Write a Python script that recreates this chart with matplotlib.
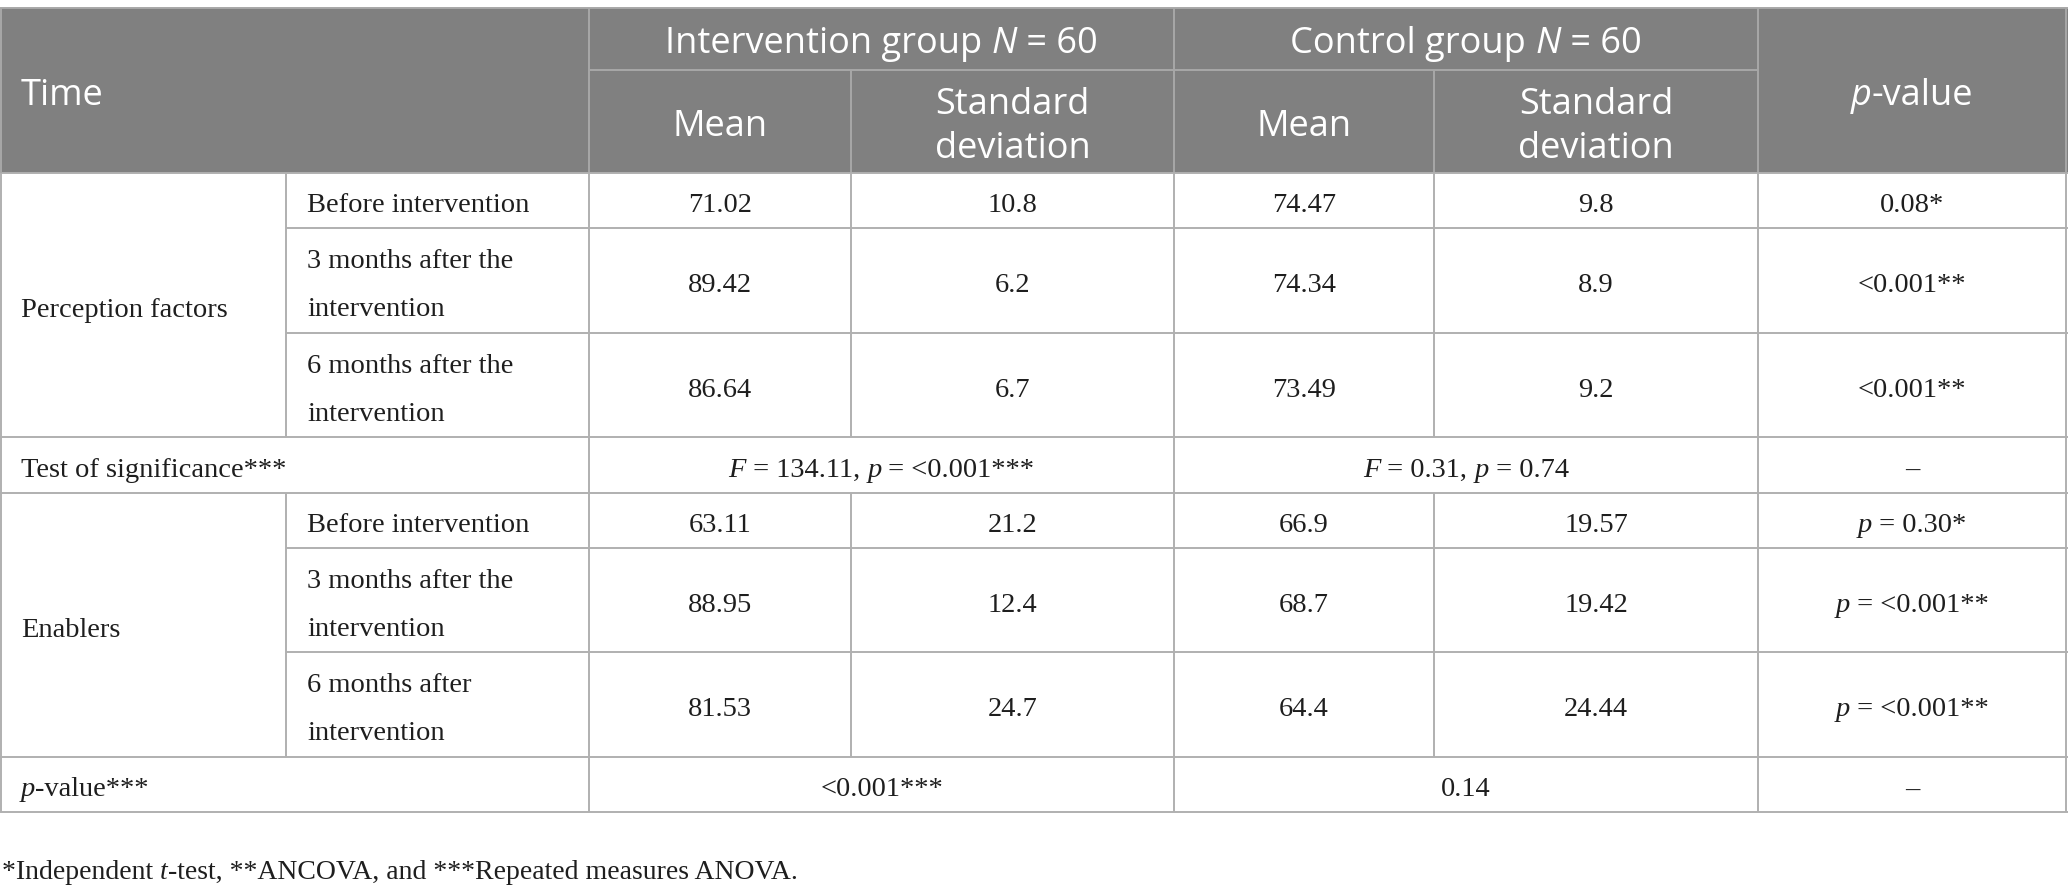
import re
import matplotlib
matplotlib.use("Agg")
import matplotlib.pyplot as plt
from matplotlib.patches import Rectangle

# ---------------- data ----------------
header_time = "Time"
header_groups = ["Intervention group {N} = 60", "Control group {N} = 60"]
header_sub = ["Mean", "Standard\ndeviation", "Mean", "Standard\ndeviation"]
header_p = "{p}-value"

group_names = ["Perception factors", "Enablers"]
times_pf = ["Before intervention", "3 months after the\nintervention", "6 months after the\nintervention"]
times_en = ["Before intervention", "3 months after the\nintervention", "6 months after\nintervention"]

int_mean_pf = [71.02, 89.42, 86.64]
int_sd_pf = [10.8, 6.2, 6.7]
ctl_mean_pf = [74.47, 74.34, 73.49]
ctl_sd_pf = [9.8, 8.9, 9.2]
pval_pf = ["0.08*", "<0.001**", "<0.001**"]

int_mean_en = [63.11, 88.95, 81.53]
int_sd_en = [21.2, 12.4, 24.7]
ctl_mean_en = [66.9, 68.7, 64.4]
ctl_sd_en = [19.57, 19.42, 24.44]
pval_en = ["{p} = 0.30*", "{p} = <0.001**", "{p} = <0.001**"]

sig_label = "Test of significance***"
sig_int = "{F} = 134.11, {p} = <0.001***"
sig_ctl = "{F} = 0.31, {p} = 0.74"
sig_p = "\u2013"

last_label = "{p}-value***"
last_int = "<0.001***"
last_ctl = "0.14"
last_p = "\u2013"

footnote = "*Independent {t}-test, **ANCOVA, and ***Repeated measures ANOVA."

# ---------------- layout (pixels) ----------------
W, H = 2068, 896
cols = [0, 286, 589, 851, 1174, 1434, 1758, 2066]
y_top, y_hmid, y_hbot = 8, 70, 173
rows_pf = [173, 228, 333, 437]
row_sig = [437, 493]
rows_en = [493, 548, 652, 757]
row_last = [757, 812]

HEAD_BG = "#808080"
HEAD_LINE = "#a8a8a8"
GRID = "#b0b0b0"
TXT = "#1e1e1e"
SERIF = "Liberation Serif"
SANS = "Open Sans"
BODY_FS = 20.5
HEAD_FS = 26
LW = 1.4

fig = plt.figure(figsize=(W / 100, H / 100), dpi=100)
ax = fig.add_axes([0, 0, 1, 1])
ax.set_xlim(0, W)
ax.set_ylim(H, 0)
ax.axis("off")
renderer = fig.canvas.get_renderer()


def seg_width(s, family, style, size):
    t = ax.text(0, 0, s + "|", family=family, style=style, fontsize=size)
    t2 = ax.text(0, 0, "|", family=family, style=style, fontsize=size)
    w = t.get_window_extent(renderer).width - t2.get_window_extent(renderer).width
    t.remove()
    t2.remove()
    return w


def rich(x, y, s, family=SERIF, size=BODY_FS, color=TXT, ha="center"):
    parts = re.split(r"(\{.*?\})", s)
    segs = []
    for p in parts:
        if not p:
            continue
        if p.startswith("{") and p.endswith("}"):
            segs.append((p[1:-1], "italic"))
        else:
            segs.append((p, "normal"))
    widths = [seg_width(t, family, st, size) for t, st in segs]
    total = sum(widths)
    if ha == "center":
        cx = x - total / 2
    elif ha == "left":
        cx = x
    else:
        cx = x - total
    for (t, st), w in zip(segs, widths):
        ax.text(cx, y, t, family=family, style=st, fontsize=size, color=color,
                ha="left", va="baseline")
        cx += w


def cell_text(x, yc, s, ha="center", family=SERIF, size=BODY_FS, color=TXT, gap=48, off=12):
    lines = s.split("\n")
    n = len(lines)
    for i, ln in enumerate(lines):
        yb = yc + off + (i - (n - 1) / 2) * gap
        rich(x, yb, ln, family=family, size=size, color=color, ha=ha)


def hline(y, x0, x1, color=GRID):
    ax.plot([x0, x1], [y, y], color=color, lw=LW, solid_capstyle="butt", zorder=3)


def vline(x, y0, y1, color=GRID):
    ax.plot([x, x], [y0, y1], color=color, lw=LW, solid_capstyle="butt", zorder=3)


# header background
ax.add_patch(Rectangle((0, y_top), W, y_hbot - y_top, facecolor=HEAD_BG, edgecolor="none", zorder=1))

# header lines
hline(y_top, 0, W, HEAD_LINE)
hline(y_hmid, cols[2], cols[6], HEAD_LINE)
for xi in [cols[2], cols[4], cols[6]]:
    vline(xi, y_top, y_hbot, HEAD_LINE)
for xi in [cols[3], cols[5]]:
    vline(xi, y_hmid, y_hbot, HEAD_LINE)

# header text
WHITE = "white"
rich(21, 105, header_time, family=SANS, size=HEAD_FS, color=WHITE, ha="left")
rich((cols[2] + cols[4]) / 2, 53, header_groups[0], family=SANS, size=HEAD_FS, color=WHITE)
rich((cols[4] + cols[6]) / 2, 53, header_groups[1], family=SANS, size=HEAD_FS, color=WHITE)
for j, lab in enumerate(header_sub):
    xc = (cols[2 + j] + cols[3 + j]) / 2
    cell_text(xc, (y_hmid + y_hbot) / 2, lab, family=SANS, size=HEAD_FS, color=WHITE, gap=44, off=14)
rich((cols[6] + cols[7]) / 2, 105, header_p, family=SANS, size=HEAD_FS, color=WHITE)

# body grid
hline(y_hbot, 0, W)
for yy in rows_pf[1:-1] + rows_en[1:-1]:
    hline(yy, cols[1], W)
for yy in [rows_pf[-1], row_sig[1], rows_en[-1], row_last[1]]:
    hline(yy, 0, W)
vline(cols[0] + 1, y_hbot, row_last[1])
vline(cols[7], y_hbot, row_last[1])
for xi in [cols[2], cols[4], cols[6]]:
    vline(xi, y_hbot, row_last[1])
for xi in [cols[1], cols[3], cols[5]]:
    vline(xi, rows_pf[0], rows_pf[-1])
    vline(xi, rows_en[0], rows_en[-1])
# left/right border in header
vline(cols[0] + 1, y_top, y_hbot, HEAD_LINE)
vline(cols[7], y_top, y_hbot, HEAD_LINE)


def block(rows, gname, times, im, isd, cm, csd, pv):
    rich(21, (rows[0] + rows[-1]) / 2 + 12, gname, ha="left")
    for i in range(3):
        yc = (rows[i] + rows[i + 1]) / 2
        cell_text(cols[1] + 21, yc, times[i], ha="left")
        vals = [str(im[i]), str(isd[i]), str(cm[i]), str(csd[i]), pv[i]]
        for j, v in enumerate(vals):
            cell_text((cols[2 + j] + cols[3 + j]) / 2, yc, v)


block(rows_pf, group_names[0], times_pf, int_mean_pf, int_sd_pf, ctl_mean_pf, ctl_sd_pf, pval_pf)

yc = (row_sig[0] + row_sig[1]) / 2
cell_text(21, yc, sig_label, ha="left")
cell_text((cols[2] + cols[4]) / 2, yc, sig_int)
cell_text((cols[4] + cols[6]) / 2, yc, sig_ctl)
cell_text((cols[6] + cols[7]) / 2, yc, sig_p)

block(rows_en, group_names[1], times_en, int_mean_en, int_sd_en, ctl_mean_en, ctl_sd_en, pval_en)

yc = (row_last[0] + row_last[1]) / 2
cell_text(21, yc, last_label, ha="left")
cell_text((cols[2] + cols[4]) / 2, yc, last_int)
cell_text((cols[4] + cols[6]) / 2, yc, last_ctl)
cell_text((cols[6] + cols[7]) / 2, yc, last_p)

rich(2, 879, footnote, size=20, ha="left")

fig.savefig("out.png", dpi=100)
